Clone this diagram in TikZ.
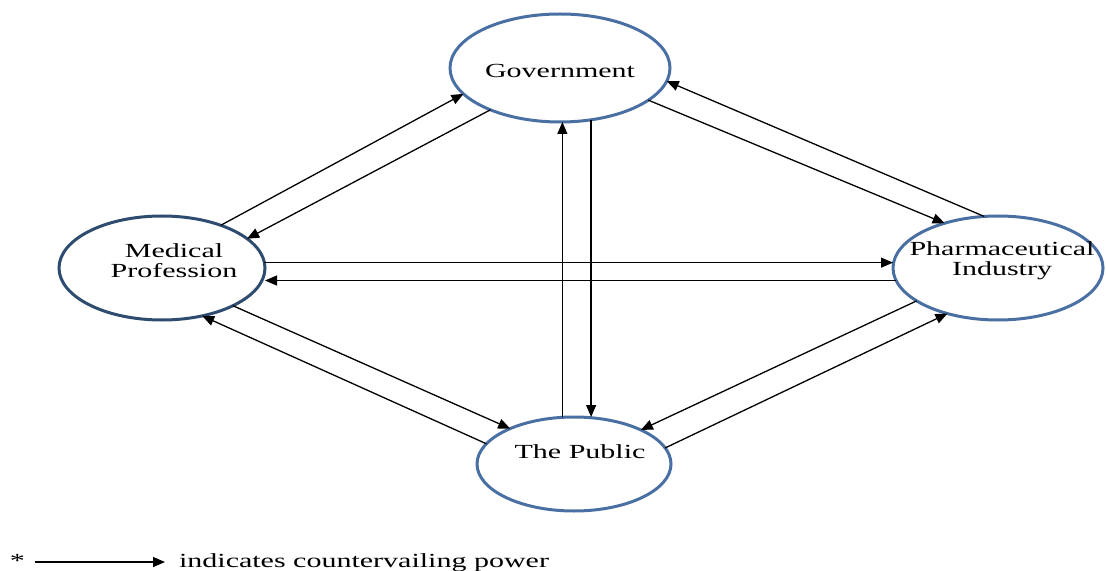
\documentclass[tikz,border=0pt]{standalone}
\usepackage{fontspec}
\setmainfont{Liberation Serif}[FakeStretch=1.5]
\usepackage{xcolor}
\usetikzlibrary{arrows.meta, shapes.geometric}

\definecolor{ringblue}{HTML}{4A70A3}
\definecolor{ringnavy}{HTML}{2E4B70}

\tikzset{
	actor/.style={ellipse, draw=ringblue, line width=1.5pt, inner sep=0pt, outer sep=0pt},
	power/.style={-{Triangle[length=6pt,width=5pt]}, line width=0.65pt},
	every label/.style={font=\fontsize{10}{10}\selectfont, align=center}
}

\begin{document}
\begin{tikzpicture}[x=0.5pt, y=-0.5pt]
		\useasboundingbox (0,0) rectangle (1106,571);

		% Circles
		\node[actor, minimum width=110pt, minimum height=54pt,
			label={[yshift=-1.5pt]center:Government}] (gov) at (560,68) {};
		\node[actor, draw=ringnavy, minimum width=103pt, minimum height=52pt,
			label={[xshift=6pt, yshift=3.75pt]center:Medical\\Profession}] (med) at (162,268) {};
		\node[actor, minimum width=105pt, minimum height=52pt,
			label={[xshift=2pt, yshift=3.75pt]center:Pharmaceutical\\Industry}] (pha) at (998,268) {};
		\node[actor, minimum width=97pt, minimum height=47pt,
			label={[xshift=3pt, yshift=6pt]center:The Public}] (pub) at (574,464) {};

		% Medical profession and government
		\draw[power] (med.36.9) -- (gov.195.4);
		\draw[power] (gov.211.4) -- (med.19.4);

		% Government and industry
		\draw[power] (gov.340.8) -- (pha.140);
		\draw[power] (pha.105.5) -- (gov.353.9);

		% Medical profession and industry
		\draw[power] (med.3.3) -- (med.3.3 -| pha.west);
		\draw[power] (pha.187) -- (pha.187 -| med.east);

		% Public and government
		\draw[power] (pub.104.4) -- (pub.104.4 |- gov.south);
		\draw[power] (gov.301.8) -- (gov.301.8 |- pub.north);

		% Medical profession and public
		\draw[power] (med.332.5) -- (pub.151.8);
		\draw[power] (pub.167.7) -- (med.310.7);

		% Industry and public
		\draw[power] (pha.202.3) -- (pub.27.9);
		\draw[power] (pub.10.3) -- (pha.222.8);

		% Legend
		\node[anchor=base east, font=\fontsize{10}{10}\selectfont] (star) at (32,567) {*};
		\coordinate (k0) at (35,562);
		\coordinate (k1) at (165,562);
		\draw[power] (k0) -- (k1);
		\node[anchor=base west, font=\fontsize{10}{10}\selectfont] (key) at (172,567) {indicates countervailing power};
	\end{tikzpicture}
\end{document}
